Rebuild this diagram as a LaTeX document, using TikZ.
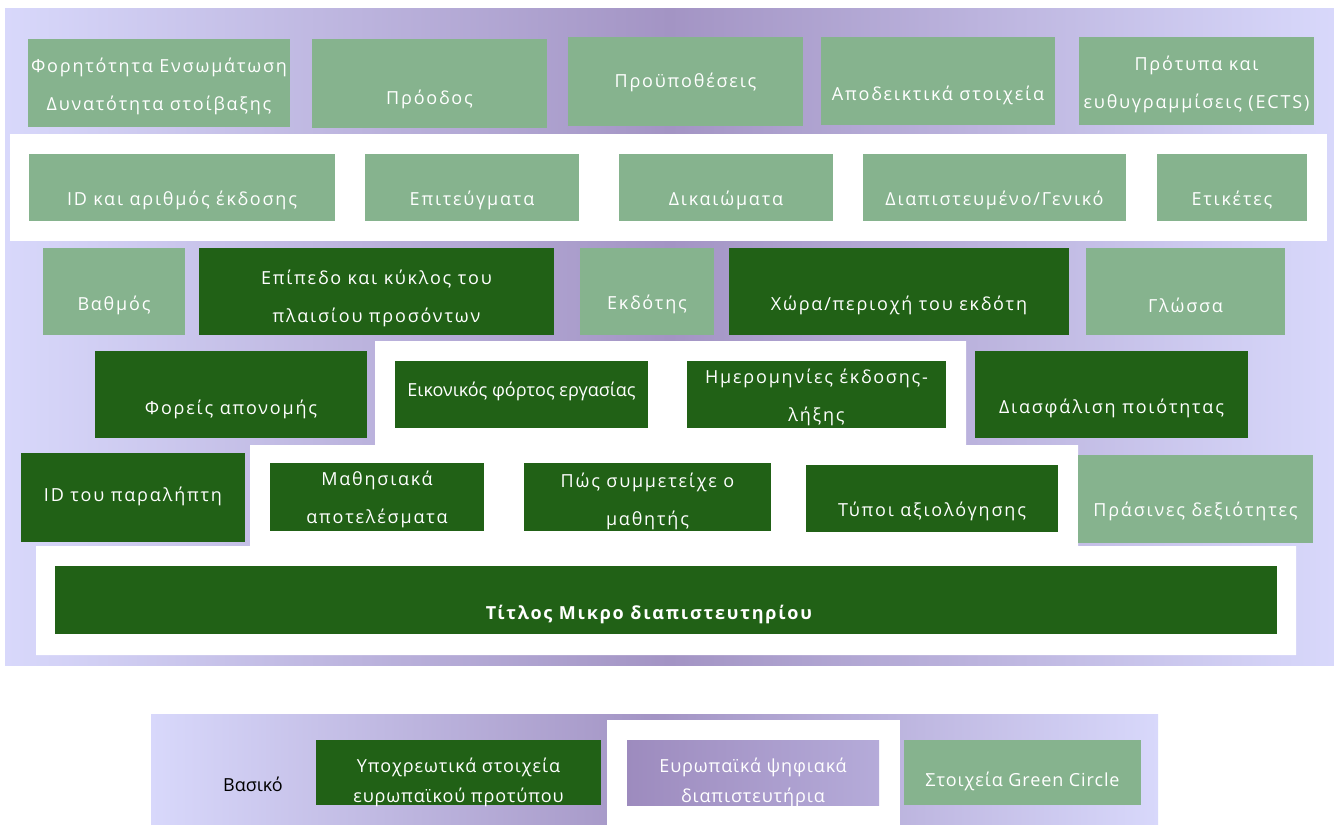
\documentclass[tikz,border=0pt]{standalone}
\usepackage{fontspec}
\setmainfont{Open Sans}
\newfontfamily\spf[LetterSpace=10]{Open Sans}
\newfontfamily\plf{Open Sans}
\newfontfamily\lgf[LetterSpace=5]{Open Sans}
\definecolor{edgec}{HTML}{D8D8FB}
\definecolor{midc}{HTML}{A394C4}
\definecolor{dgreen}{HTML}{216116}
\definecolor{lgreen}{HTML}{86B38E}
\definecolor{pleft}{HTML}{9D8BBE}
\definecolor{pright}{HTML}{B5ABD9}
\newcommand\bx[9]{%
  \node[#2, minimum width={#5-#3}, minimum height={#6-#4}, anchor=north west] (#1) at (#3,#4) {};
  \node[#8] (#1t) at ({(#3+#5)/2},#7+2) {#9};
}
\begin{document}
\begin{tikzpicture}[x=1pt,y=-1pt,
  boxbase/.style={draw=none, inner sep=0pt, outer sep=0pt},
  lg/.style={boxbase, fill=lgreen},
  dg/.style={boxbase, fill=dgreen},
  pg/.style={boxbase, left color=pleft, right color=pright},
  txt/.style={text=white, inner sep=0pt, align=center, font=\spf\fontsize{18}{38}\selectfont},
  txtb/.style={txt, font=\spf\bfseries\fontsize{18}{38}\selectfont},
  txtc/.style={txt, font=\plf\fontsize{18}{38}\selectfont},
  txtl/.style={txt, font=\lgf\fontsize{18}{30}\selectfont},
  txtk/.style={text=black, inner sep=0pt, font=\plf\fontsize{18}{30}\selectfont},
  whitefill/.style={fill=white, draw=none}
]
\useasboundingbox (0,0) rectangle (1334,825);
\fill[white] (0,0) rectangle (1334,825);
% main panel
\shade[left color=edgec, right color=edgec, middle color=midc] (5,8) rectangle (1334,665);
% row 1
\bx{a1}{lg}{28}{39}{290}{127}{84.5}{txt}{Φορητότητα Ενσωμάτωση\\Δυνατότητα στοίβαξης}
\bx{a2}{lg}{312}{39}{547}{128}{97}{txt}{Πρόοδος}
\bx{a3}{lg}{568}{37}{803}{126}{80}{txt}{Προϋποθέσεις}
\bx{a4}{lg}{821}{37}{1055}{125}{93}{txt}{Αποδεικτικά στοιχεία}
\bx{a5}{lg}{1079}{37}{1314}{125}{82.5}{txt}{Πρότυπα και\\ευθυγραμμίσεις (ECTS)}
% row 2
\fill[whitefill] (10,134) rectangle (1327,241);
\bx{b1}{lg}{29}{154}{335}{221}{198}{txt}{ID και αριθμός έκδοσης}
\bx{b2}{lg}{365}{154}{579}{221}{198}{txt}{Επιτεύγματα}
\bx{b3}{lg}{619}{154}{833}{221}{198}{txt}{Δικαιώματα}
\bx{b4}{lg}{863}{154}{1126}{221}{198}{txt}{Διαπιστευμένο/Γενικό}
\bx{b5}{lg}{1157}{154}{1307}{221}{198}{txt}{Ετικέτες}
% row 3
\bx{c1}{lg}{43}{248}{185}{335}{303}{txt}{Βαθμός}
\bx{c2}{dg}{199}{248}{554}{335}{296.5}{txt}{Επίπεδο και κύκλος του\\πλαισίου προσόντων}
\bx{c3}{lg}{580}{248}{714}{335}{302}{txt}{Εκδότης}
\bx{c4}{dg}{729}{248}{1069}{335}{303}{txt}{Χώρα/περιοχή του εκδότη}
\bx{c5}{lg}{1086}{248}{1285}{335}{303}{txt}{Γλώσσα}
% white step
\fill[whitefill] (375,341) -- (966,341) -- (966,445) -- (1078,445) -- (1078,546)
  -- (1296,546) -- (1296,655) -- (36,655) -- (36,546) -- (250,546) -- (250,445)
  -- (375,445) -- cycle;
% row 4
\bx{d1}{dg}{95}{351}{367}{438}{407}{txt}{Φορείς απονομής}
\bx{d2}{dg}{395}{361}{648}{428}{389}{txtc}{Εικονικός φόρτος εργασίας}
\bx{d3}{dg}{687}{361}{946}{428}{395.5}{txt}{Ημερομηνίες έκδοσης-\\λήξης}
\bx{d4}{dg}{975}{351}{1248}{438}{406}{txt}{Διασφάλιση ποιότητας}
% row 5
\bx{e1}{dg}{21}{453}{245}{542}{494}{txt}{ID του παραλήπτη}
\bx{e2}{dg}{270}{463}{484}{531}{497}{txt}{Μαθησιακά\\αποτελέσματα}
\bx{e3}{dg}{524}{463}{771}{531}{499}{txt}{Πώς συμμετείχε ο\\μαθητής}
\bx{e4}{dg}{806}{465}{1058}{532}{509}{txt}{Τύποι αξιολόγησης}
\bx{e5}{lg}{1078}{455}{1313}{543}{509}{txt}{Πράσινες δεξιότητες}
% row 6
\node[dg, minimum width=1222, minimum height=68, anchor=north west] (f1) at (55,566) {};
\node[txtb] (f1t) at (649,614) {Τίτλος Μικρο διαπιστευτηρίου};
% legend
\shade[left color=edgec, right color=edgec, middle color=midc] (151,714) rectangle (1158,825);
\fill[whitefill] (607,720) rectangle (900,825);
\node[txtk] (basic) at (253,784) {Βασικό};
\bx{g1}{dg}{316}{740}{601}{805}{780}{txtl}{Υποχρεωτικά στοιχεία\\ευρωπαϊκού προτύπου}
\bx{g2}{pg}{627}{740}{879}{805}{780}{txtl}{Ευρωπαϊκά ψηφιακά\\διαπιστευτήρια}
\bx{g3}{lg}{904}{740}{1141}{805}{779}{txtl}{Στοιχεία Green Circle}
\end{tikzpicture}
\end{document}
